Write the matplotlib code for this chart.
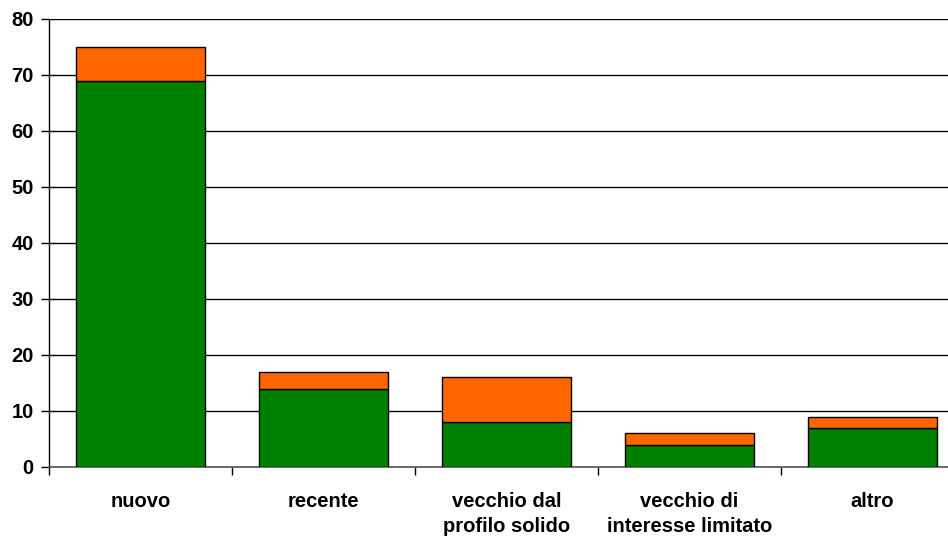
import matplotlib
matplotlib.use("Agg")
import matplotlib.pyplot as plt
import numpy as np

categories = ["nuovo", "recente", "vecchio dal\nprofilo solido",
              "vecchio di\ninteresse limitato", "altro"]
green_values = [69, 14, 8, 4, 7]
orange_values = [6, 3, 8, 2, 2]
y_ticks = [0, 10, 20, 30, 40, 50, 60, 70, 80]

plt.rcParams["font.family"] = ["Liberation Sans", "DejaVu Sans"]
plt.rcParams["font.weight"] = "bold"

fig = plt.figure(figsize=(9.48, 5.36), dpi=100)
ax = fig.add_axes([49 / 948, 1 - 467 / 536, 915 / 948, 448 / 536])

x = np.arange(len(categories))
width = 0.71
ax.bar(x, green_values, width, color="#008000", edgecolor="black", linewidth=1, zorder=3)
ax.bar(x, orange_values, width, bottom=green_values, color="#FF6600",
       edgecolor="black", linewidth=1, zorder=3)

ax.set_xlim(-0.5, len(categories) - 0.5)
ax.set_ylim(0, 80)
ax.set_yticks(y_ticks)
ax.set_yticklabels([str(v) for v in y_ticks], fontsize=14.5, fontweight="bold")
ax.yaxis.grid(True, color="black", linewidth=1, zorder=0)
ax.set_axisbelow(True)

# category labels between boundary ticks
ax.set_xticks(np.arange(len(categories) + 1) - 0.5)
ax.set_xticklabels([])
ax.set_xticks(x, minor=True)
ax.set_xticklabels(categories, minor=True, fontsize=14.5, fontweight="bold",
                   linespacing=1.4)
ax.tick_params(axis="x", which="minor", length=0, pad=18)
ax.tick_params(axis="x", which="major", length=6, width=1, direction="out")
ax.tick_params(axis="y", length=6, width=1, direction="out", pad=5)

for side in ["top", "right"]:
    ax.spines[side].set_visible(False)
ax.spines["left"].set_linewidth(1)
ax.spines["bottom"].set_color("#555555")
ax.spines["bottom"].set_linewidth(1.2)

fig.savefig("out.png", dpi=100)
